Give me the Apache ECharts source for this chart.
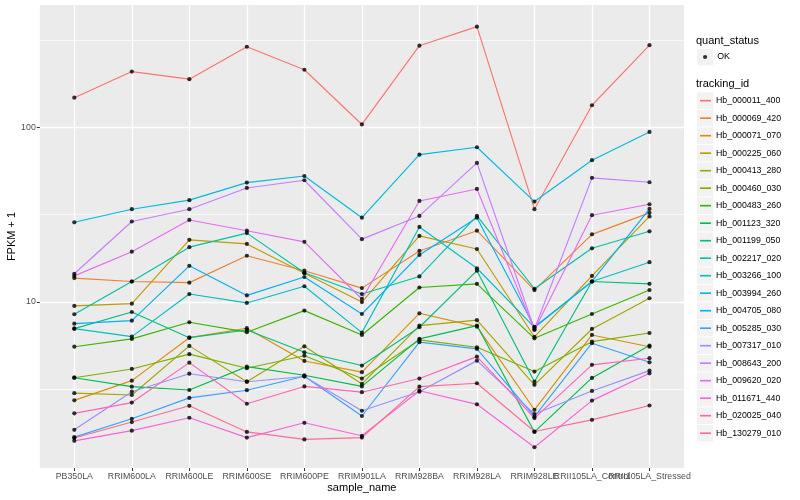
<!DOCTYPE html>
<html><head><meta charset="utf-8">
<script src="https://cdn.jsdelivr.net/npm/echarts@6/dist/echarts.min.js"></script>
<style>html,body{margin:0;padding:0;background:#fff}#c{width:800px;height:500px}</style>
</head><body><div id="c"></div>
<script>
// ---- data (FPKM + 1) ----
const categories = ['PB350LA','RRIM600LA','RRIM600LE','RRIM600SE','RRIM600PE','RRIM901LA','RRIM928BA','RRIM928LA','RRIM928LE','RRII105LA_Control','RRII105LA_Stressed'];
const trackingIds = ['Hb_000011_400','Hb_000069_420','Hb_000071_070','Hb_000225_060','Hb_000413_280','Hb_000460_030','Hb_000483_260','Hb_001123_320','Hb_001199_050','Hb_002217_020','Hb_003266_100','Hb_003994_260','Hb_004705_080','Hb_005285_030','Hb_007317_010','Hb_008643_200','Hb_009620_020','Hb_011671_440','Hb_020025_040','Hb_130279_010'];
const hb_000011_400 = [148, 209, 189, 290, 214, 104, 294, 378, 34.0, 134, 296];
const hb_000069_420 = [13.7, 13.1, 12.9, 18.4, 15.1, 12.0, 19.6, 25.6, 11.7, 24.4, 32.4];
const hb_000071_070 = [2.73, 3.54, 6.24, 7.07, 4.59, 3.96, 8.61, 7.22, 2.41, 6.47, 5.54];
const hb_000225_060 = [9.49, 9.78, 22.7, 21.5, 14.6, 9.98, 23.9, 20.1, 6.30, 14.1, 30.9];
const hb_000413_280 = [3.00, 2.93, 5.60, 3.49, 5.57, 3.39, 7.32, 7.86, 3.35, 7.00, 10.5];
const hb_000460_030 = [3.68, 4.13, 5.02, 4.17, 4.92, 3.64, 6.06, 5.50, 3.99, 5.92, 6.64];
const hb_000483_260 = [5.54, 6.14, 7.65, 6.71, 8.92, 6.47, 12.1, 12.7, 6.19, 8.53, 11.7];
const hb_001123_320 = [3.68, 3.27, 3.13, 4.26, 3.80, 3.28, 6.14, 7.32, 1.80, 3.67, 5.62];
const hb_001199_050 = [7.03, 8.76, 6.24, 6.91, 5.15, 4.32, 7.16, 15.1, 3.49, 13.1, 12.7];
const hb_002217_020 = [8.50, 13.1, 20.6, 24.8, 14.7, 11.1, 14.0, 31.1, 11.9, 20.3, 25.4];
const hb_003266_100 = [7.03, 6.33, 11.1, 9.87, 12.3, 6.67, 26.9, 15.6, 7.14, 13.1, 16.9];
const hb_003994_260 = [28.6, 34.0, 38.3, 48.3, 52.7, 30.4, 69.8, 77.0, 37.6, 64.9, 94.2];
const hb_004705_080 = [7.51, 7.81, 16.1, 10.9, 13.9, 8.53, 18.6, 30.4, 7.19, 13.1, 34.1];
const hb_005285_030 = [1.68, 2.14, 2.82, 3.12, 3.75, 2.22, 5.88, 5.38, 2.20, 5.80, 4.51];
const hb_007317_010 = [1.85, 3.06, 3.88, 3.49, 3.74, 2.38, 3.06, 4.61, 2.28, 3.09, 4.04];
const hb_008643_200 = [14.5, 28.9, 34.0, 45.0, 49.8, 22.9, 31.1, 62.6, 6.98, 51.4, 48.5];
const hb_009620_020 = [14.1, 19.4, 29.5, 25.6, 22.1, 10.4, 37.9, 44.4, 6.91, 31.4, 36.3];
const hb_011671_440 = [1.60, 1.83, 2.17, 1.67, 2.03, 1.71, 3.10, 2.59, 1.47, 2.72, 3.90];
const hb_020025_040 = [2.30, 2.65, 4.49, 2.61, 3.28, 3.04, 3.64, 4.86, 2.16, 4.36, 4.76];
const hb_130279_010 = [1.66, 2.05, 2.54, 1.80, 1.63, 1.67, 3.27, 3.42, 1.81, 2.11, 2.55];
const yTickLabels = [10, 100];
const yMinorBreaks = [3.162, 31.62, 316.2];
const yRange = [1.118, 503];
const quantStatus = 'OK';

const seriesValues = [hb_000011_400,hb_000069_420,hb_000071_070,hb_000225_060,hb_000413_280,hb_000460_030,hb_000483_260,hb_001123_320,hb_001199_050,hb_002217_020,hb_003266_100,hb_003994_260,hb_004705_080,hb_005285_030,hb_007317_010,hb_008643_200,hb_009620_020,hb_011671_440,hb_020025_040,hb_130279_010];
const colors = ['#F8766D','#EA8331','#D89000','#C09B00','#A3A500','#7CAE00','#39B600','#00BB4E','#00BF7D','#00C1A3','#00BFC4','#00BAE0','#00B0F6','#35A2FF','#9590FF','#C77CFF','#E76BF3','#FA62DB','#FF62BC','#FF6C91'];

const FONT = '"Liberation Sans", Arial, Helvetica, sans-serif';
const L = Math.log10;
const catIdx = categories.map((c, i) => i);
const evenIdx = catIdx.filter(i => i % 2 === 0);
const oddIdx = catIdx.filter(i => i % 2 === 1);

const lineSeries = trackingIds.map((name, k) => ({
  name, type: 'line', showSymbol: false, z: 2, xAxisIndex: 0,
  data: seriesValues[k].map((v, i) => [i, L(v)]),
  itemStyle: {color: colors[k]},
  lineStyle: {color: colors[k], width: 1.15},
  emphasis: {disabled: true}
}));
const pts = [];
seriesValues.forEach(arr => arr.forEach((v, i) => pts.push([i, L(v)])));
const pointSeries = {
  name: quantStatus, type: 'scatter', z: 5, symbol: 'circle', symbolSize: 4.2, xAxisIndex: 0,
  itemStyle: {color: '#000'}, data: pts, emphasis: {disabled: true}
};

const keyBoxes = [{type: 'rect', z: -1, shape: {x: 697, y: 48.8, width: 16.2, height: 16.6}, style: {fill: '#F2F2F2'}}];
trackingIds.forEach((n, i) => keyBoxes.push({type: 'rect', z: -1, shape: {x: 697, y: 100.7 + i * 17.5 - 8.3, width: 16.2, height: 16.6}, style: {fill: '#F2F2F2'}}));

const xLabelStyle = {formatter: v => categories[Math.round(v)], color: '#4D4D4D', fontSize: 8.8, margin: 4, hideOverlap: false, showMinLabel: true, showMaxLabel: true, fontFamily: FONT};

const option = {
  animation: false,
  backgroundColor: '#ffffff',
  textStyle: {fontFamily: FONT},
  grid: {left: 39.8, right: 116, top: 5, bottom: 32, show: true, backgroundColor: '#EBEBEB', borderWidth: 0, containLabel: false, outerBoundsMode: 'none'},
  xAxis: [{
    type: 'value', min: -0.6, max: 10.6, position: 'bottom',
    axisLine: {show: false, onZero: false},
    axisTick: {show: true, length: 3, customValues: catIdx, lineStyle: {color: '#333333', width: 1}},
    axisLabel: Object.assign({customValues: evenIdx}, xLabelStyle),
    splitLine: {show: true, lineStyle: {color: '#ffffff', width: 1.3}},
    minorSplitLine: {show: false},
    name: 'sample_name', nameLocation: 'middle', nameGap: 14, nameMoveOverlap: false,
    nameTextStyle: {fontSize: 11, color: '#000', fontFamily: FONT}
  }, {
    type: 'value', min: -0.6, max: 10.6, position: 'bottom', offset: 0,
    axisLine: {show: false, onZero: false},
    axisTick: {show: false, customValues: oddIdx},
    axisLabel: Object.assign({customValues: oddIdx}, xLabelStyle),
    splitLine: {show: false}
  }],
  yAxis: [{
    type: 'value', min: L(yRange[0]), max: L(yRange[1]),
    axisLine: {show: false, onZero: false},
    axisTick: {show: true, length: 3, customValues: yTickLabels.map(L), lineStyle: {color: '#333333', width: 1}},
    axisLabel: {customValues: yTickLabels.map(L), formatter: v => String(Math.round(Math.pow(10, v))), color: '#4D4D4D', fontSize: 8.8, margin: 4, fontFamily: FONT},
    splitLine: {show: true, lineStyle: {color: '#ffffff', width: 1.3}},
    name: 'FPKM + 1', nameLocation: 'middle', nameGap: 22, nameRotate: 90, nameMoveOverlap: false,
    nameTextStyle: {fontSize: 11, color: '#000', fontFamily: FONT}
  }, {
    type: 'value', min: L(yRange[0]), max: L(yRange[1]), position: 'left',
    axisLine: {show: false, onZero: false},
    axisTick: {show: false, customValues: yMinorBreaks.map(L)},
    axisLabel: {show: false, customValues: yMinorBreaks.map(L)},
    splitLine: {show: true, lineStyle: {color: '#ffffff', width: 0.7}}
  }],
  legend: [{
    data: [quantStatus], orient: 'vertical', left: 703, top: 51, padding: 0,
    icon: 'circle', itemWidth: 4.2, itemHeight: 4.2, itemGap: 0,
    selectedMode: false,
    textStyle: {fontSize: 8.8, color: '#000', lineHeight: 12, padding: [0, 0, 0, 5], fontFamily: FONT}
  }, {
    data: trackingIds, orient: 'vertical', left: 700, top: 94.7, padding: 0,
    icon: 'path://M0,0h20v3h-20z', itemWidth: 11, itemHeight: 12, itemGap: 5.5,
    selectedMode: false,
    textStyle: {fontSize: 8.8, color: '#000', lineHeight: 12, fontFamily: FONT}
  }],
  graphic: [
    ...keyBoxes,
    {type: 'text', z: 1, x: 696, y: 40.7, style: {text: 'quant_status', fontSize: 11, fontFamily: FONT, fill: '#000', verticalAlign: 'middle'}},
    {type: 'text', z: 1, x: 696, y: 84.3, style: {text: 'tracking_id', fontSize: 11, fontFamily: FONT, fill: '#000', verticalAlign: 'middle'}}
  ],
  series: [...lineSeries, pointSeries]
};
const chart = echarts.init(document.getElementById('c'), null, {renderer: 'canvas'});
chart.setOption(option);
</script></body></html>
